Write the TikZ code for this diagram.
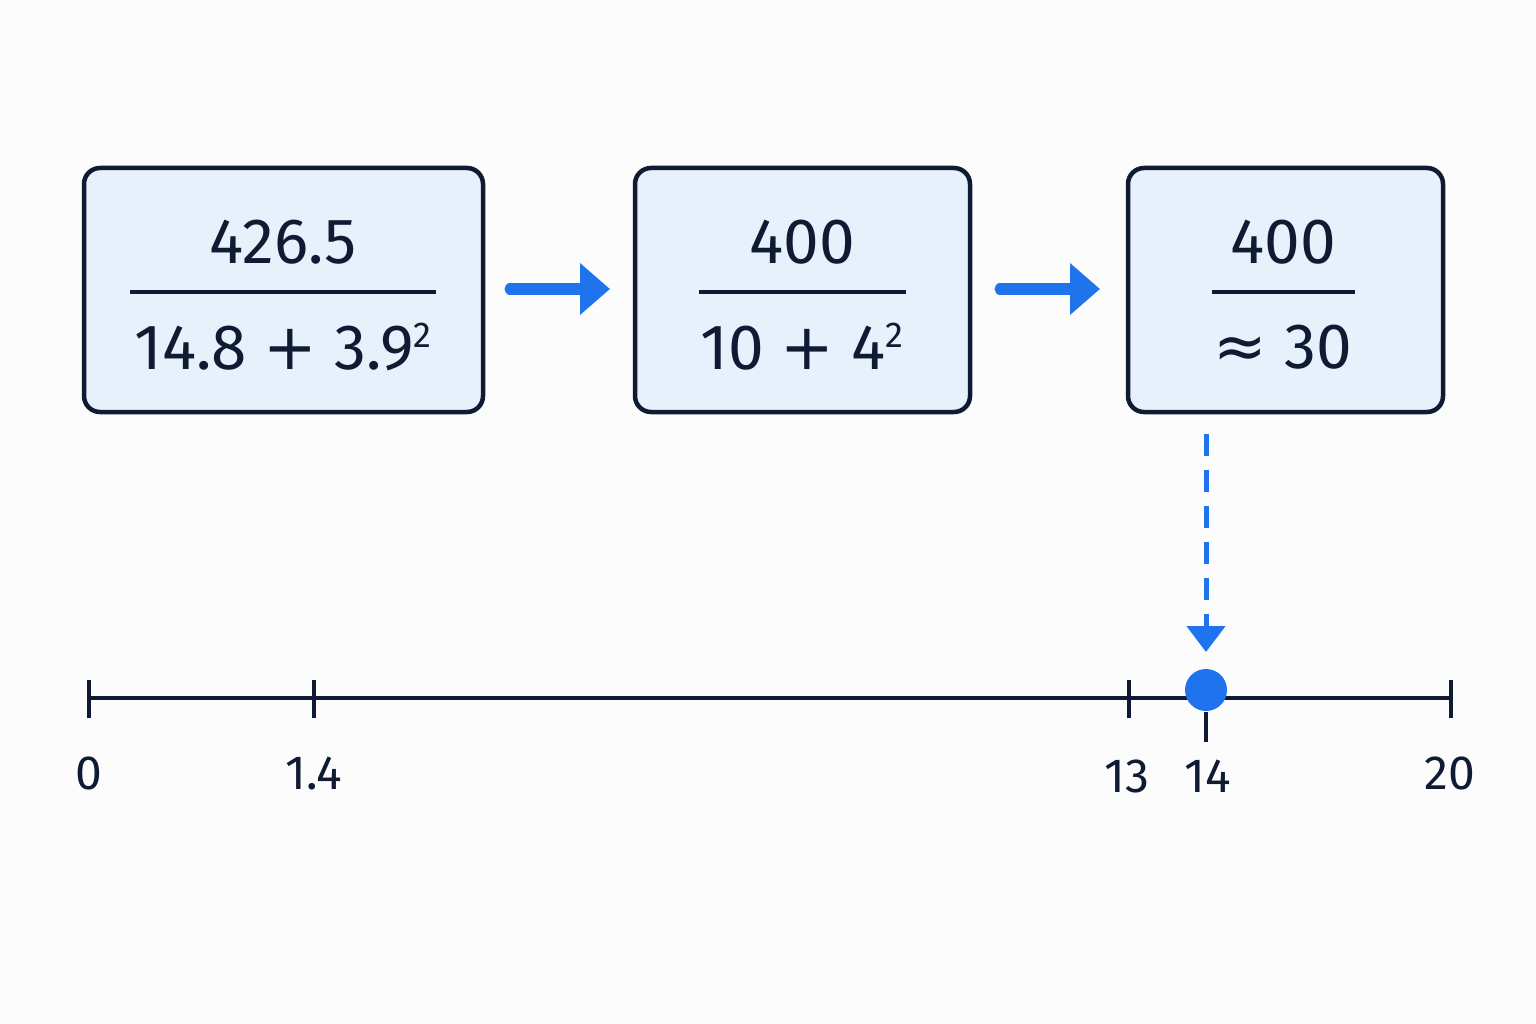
\documentclass[tikz,border=0pt]{standalone}
\usepackage{fontspec}
\setmainfont{Fira Sans}
\newfontfamily\djv{DejaVu Sans}
\usetikzlibrary{arrows.meta}
\definecolor{navy}{HTML}{0F1B33}
\definecolor{boxfill}{HTML}{E6F1FC}
\definecolor{blu}{HTML}{1F74EE}
\newcommand{\sq}{\raisebox{22pt}{\fontsize{36}{36}\selectfont 2}}
\begin{document}
\begin{tikzpicture}[x=1pt,y=-1pt,
  box/.style={draw=navy,line width=4.5pt,fill=boxfill,rounded corners=16pt},
  big/.style={text=navy,font=\fontsize{64}{70}\selectfont,inner sep=0pt},
  lab/.style={text=navy,font=\fontsize{48}{52}\selectfont,inner sep=0pt},
  frac/.style={navy,line width=4.5pt},
  flow/.style={blu,line width=11pt,line cap=round,-{Triangle[width=50pt,length=30pt]}},
  axis/.style={navy,line width=4.5pt}]
\useasboundingbox (0,0) rectangle (1536,1024);
\fill[white!98!gray] (0,0) rectangle (1536,1024);
\node[box,minimum width=399pt,minimum height=244pt] (b1) at (283.5,290) {};
\node[box,minimum width=335pt,minimum height=244pt] (b2) at (802.5,290) {};
\node[box,minimum width=315pt,minimum height=244pt] (b3) at (1285.5,290) {};
\draw[frac] (130,292) -- (436,292);
\draw[frac] (699,292) -- (906,292);
\draw[frac] (1212,292) -- (1355,292);
\node[big] (n1) at (283,242) {426.5};
\node[big] (d1) at (283,347) {14.8 {\djv +} 3.9\sq};
\node[big] (n2) at (802,242) {400};
\node[big] (d2) at (802,347) {10 {\djv +} 4\sq};
\node[big] (n3) at (1283,242) {400};
\node[big] (d3) at (1283,347) {{\djv ≈} 30};
\coordinate (a1s) at (510,289); \coordinate (a1e) at (610,289);
\coordinate (a2s) at (1000,289); \coordinate (a2e) at (1100,289);
\draw[flow] (a1s) -- (a1e);
\draw[flow] (a2s) -- (a2e);
\coordinate (ds) at (1206,434); \coordinate (de) at (1206,652);
\draw[blu,line width=5pt,dash pattern=on 22pt off 14pt,-{Triangle[width=38pt,length=26pt]}] (ds) -- (de);
\coordinate (ax0) at (89,698); \coordinate (ax1) at (1451,698);
\draw[axis] (ax0) -- (ax1);
\foreach \x in {89,314,1129,1451} \draw[axis] (\x,680) -- (\x,718);
\draw[axis] (1206,712) -- (1206,742);
\fill[blu] (1206,690) circle (21pt);
\node[lab] (l0) at (89,773) {0};
\node[lab] (l1) at (314,773) {1.4};
\node[lab] (l2) at (1127,776) {13};
\node[lab] (l3) at (1208,776) {14};
\node[lab] (l4) at (1450,773) {20};
\end{tikzpicture}
\end{document}
